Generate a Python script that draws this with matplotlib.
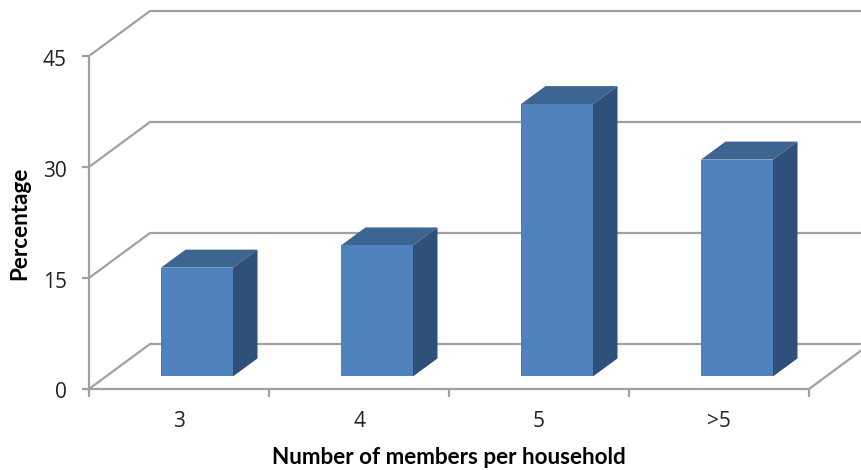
import matplotlib
matplotlib.use('Agg')
import matplotlib.pyplot as plt
from matplotlib.patches import Polygon
from matplotlib.transforms import ScaledTranslation

categories = ['3', '4', '5', '>5']
percentages = [14.7, 17.7, 36.8, 29.3]
y_ticks = [0, 15, 30, 45]

W, H = 861, 470
GRID = '#a0a0a0'
LW = 1.6
# depth of the fake 3D box and of the bars, in data units
depth_x, depth_y = 61 / 180, 45 / 7.4
bar_dx, bar_dy = 24.5 / 180, 18 / 7.4
bar_base = 1.7
bar_width = 0.4

plt.rcParams['font.family'] = ['Open Sans', 'DejaVu Sans']
fig = plt.figure(figsize=(W / 100, H / 100), dpi=100)
ax = fig.add_axes([89 / W, 1 - 389 / H, 720 / W, 333 / H])
ax.set_xlim(0, 4)
ax.set_ylim(0, 45)
ax.patch.set_visible(False)

for side in ['top', 'right']:
    ax.spines[side].set_visible(False)
for side in ['left', 'bottom']:
    ax.spines[side].set_color(GRID)
    ax.spines[side].set_linewidth(LW)

# y axis
ax.set_yticks(y_ticks)
ax.tick_params(axis='y', length=5, width=LW, color=GRID, labelsize=15, pad=11, labelcolor='#222222')
for label in ax.get_yticklabels():
    label.set_transform(label.get_transform() + ScaledTranslation(0, -1.5 / 100, fig.dpi_scale_trans))

# x axis: ticks between the categories, labels at the middle
ax.set_xticks(range(5))
ax.set_xticklabels([])
ax.set_xticks([i + 0.5 for i in range(4)], minor=True)
ax.set_xticklabels(categories, minor=True, fontsize=15, color='#222222')
ax.tick_params(axis='x', which='major', length=6, width=LW, color=GRID)
ax.tick_params(axis='x', which='minor', length=0, pad=16)

# walls and floor
for v in y_ticks:
    ax.plot([0, depth_x, 4.4], [v, v + depth_y, v + depth_y], color=GRID, lw=LW,
            clip_on=False, zorder=1)
ax.plot([4, 4 + depth_x], [0, depth_y], color=GRID, lw=LW, clip_on=False, zorder=1)

# bars
for i, v in enumerate(percentages):
    left = i + 0.4
    right = left + bar_width
    top = bar_base + v
    ax.bar(left, v, width=bar_width, bottom=bar_base, align='edge', color='#4f81bd', zorder=4)
    ax.add_patch(Polygon([(left, top), (left + bar_dx, top + bar_dy),
                          (right + bar_dx, top + bar_dy), (right, top)],
                         fc='#3c6592', ec='none', zorder=3))
    ax.add_patch(Polygon([(right, top), (right + bar_dx, top + bar_dy),
                          (right + bar_dx, bar_base + bar_dy), (right, bar_base)],
                         fc='#2f5079', ec='none', zorder=3))

ax.set_xlabel('Number of members per household', family=['Lato', 'DejaVu Sans'],
              fontsize=16.2, fontweight='bold')
ax.set_ylabel('Percentage', family=['Lato', 'DejaVu Sans'],
              fontsize=16.2, fontweight='bold')
ax.xaxis.set_label_coords((449 - 89) / 720, -(458 - 389) / 333)
ax.yaxis.set_label_coords(-(89 - 20) / 720, (389 - 223) / 333)
ax.xaxis.label.set_verticalalignment('center')
ax.yaxis.label.set_verticalalignment('center')

fig.savefig('out.png', dpi=100)
